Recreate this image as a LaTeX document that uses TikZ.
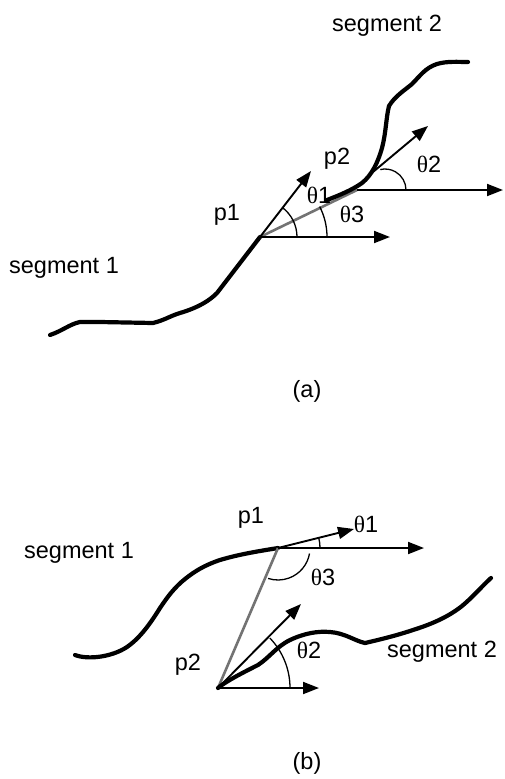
\documentclass[tikz,border=0pt]{standalone}
\usepackage{fontspec}
\setmainfont{Liberation Sans}
\newfontfamily\thetafont{Liberation Serif}
\usetikzlibrary{arrows.meta}
\begin{document}
\begin{tikzpicture}[x=1pt,y=-1pt,
  curve/.style={line width=4.2pt,line cap=round,line join=round},
  chord/.style={line width=2.6pt,black!55},
  vec/.style={line width=1.9pt,-{Triangle[length=16pt,width=12pt]}},
  angarc/.style={line width=1.3pt},
  lbl/.style={anchor=base,inner sep=0pt,font=\fontsize{23.5}{28}\selectfont},
  th/.style={anchor=base,inner sep=0pt,font=\fontsize{23.5}{28}\selectfont}]
\useasboundingbox (0,0) rectangle (504,779);
% ---------------- (a) ----------------
\coordinate (a1) at (260,237);
\coordinate (a2) at (357,190);
\coordinate (a2s) at (373,172);
\coordinate (a1h) at (390,237);
\coordinate (a1t) at (311,171);
\coordinate (a2h) at (503,190);
\coordinate (a2t) at (428,126);
% segment 1
\draw[curve] (50,335) .. controls (62,331) and (70,324) .. (80,322)
  -- (100,322) -- (153,323) .. controls (165,320) and (170,316) .. (180,313)
  .. controls (200,307) and (210,300) .. (217,293) -- (a1);
% chord p1-p2
\draw[chord] (a1) -- (a2);
% segment 2
\draw[curve] (327,200) .. controls (340,195) and (352,190) .. (362,183)
  .. controls (372,175) and (378,162) .. (382,148)
  .. controls (386,133) and (386,118) .. (389,106)
  .. controls (395,96) and (405,90) .. (412,84)
  .. controls (420,76) and (425,68) .. (437,64)
  .. controls (447,61) and (458,62) .. (468,62);
% vectors
\draw[vec] (a1) -- (a1h);
\draw[vec] (a1) -- (a1t);
\draw[vec] (a2) -- (a2h);
\draw[vec] (a2s) -- (a2t);
% angle arcs
\draw[angarc] (a1) ++(37pt,0pt) arc[start angle=0,end angle=53,radius=37pt];
\draw[angarc] (a1) ++(67pt,0pt) arc[start angle=0,end angle=27,radius=67pt];
\draw[angarc] (385,190) ++(21pt,0pt) arc[start angle=0,end angle=103,radius=21pt];
% labels
\node[lbl] (sega2) at (387,31) {segment 2};
\node[lbl] (pa2) at (337,164) {p2};
\node[lbl] (pa1) at (227,220) {p1};
\node[th] (tha1) at (319,203) {{\thetafont θ}1};
\node[th] (tha3) at (352,222) {{\thetafont θ}3};
\node[th] (tha2) at (429,172) {{\thetafont θ}2};
\node[lbl] (sega1) at (64,273) {segment 1};
\node[lbl] (capa) at (307,397) {(a)};
% ---------------- (b) ----------------
\coordinate (b1) at (278,548);
\coordinate (b2) at (218,688);
\coordinate (b1h) at (424,548);
\coordinate (b1t) at (354,529);
\coordinate (b2h) at (319,688);
\coordinate (b2t) at (301,604);
% segment 1
\draw[curve] (75,655) .. controls (88,660) and (112,657) .. (127,647)
  .. controls (140,638) and (150,624) .. (160,608)
  .. controls (168,596) and (175,587) .. (185,579)
  .. controls (195,571) and (205,565) .. (220,560)
  .. controls (240,554) and (260,551) .. (b1);
% chord
\draw[chord] (b1) -- (b2);
% segment 2
\draw[curve] (b2) .. controls (225,682) and (240,674) .. (258,665)
  .. controls (270,657) and (276,647) .. (290,640)
  .. controls (305,633) and (318,631) .. (330,632)
  .. controls (345,633) and (355,641) .. (365,643)
  .. controls (378,640) and (395,636) .. (413,630)
  .. controls (432,624) and (448,617) .. (462,606)
  .. controls (474,596) and (482,586) .. (491,578);
% vectors
\draw[vec] (b1) -- (b1h);
\draw[vec] (b1) -- (b1t);
\draw[vec] (b2) -- (b2h);
\draw[vec] (b2) -- (b2t);
% angle arcs
\draw[angarc] (b1) ++(42pt,0pt) arc[start angle=0,end angle=14,radius=42pt];
\draw[angarc] (b1) ++(-10:32pt) arc[start angle=-10,end angle=-108,radius=32pt];
\draw[angarc] (b2) ++(72pt,0pt) arc[start angle=0,end angle=44,radius=72pt];
% labels
\node[lbl] (pb1) at (251,523) {p1};
\node[th] (thb1) at (366,532) {{\thetafont θ}1};
\node[lbl] (segb1) at (79,558) {segment 1};
\node[th] (thb3) at (323,585) {{\thetafont θ}3};
\node[th] (thb2) at (309,658) {{\thetafont θ}2};
\node[lbl] (pb2) at (188,670) {p2};
\node[lbl] (segb2) at (442,657) {segment 2};
\node[lbl] (capb) at (307,769) {(b)};
\end{tikzpicture}
\end{document}
